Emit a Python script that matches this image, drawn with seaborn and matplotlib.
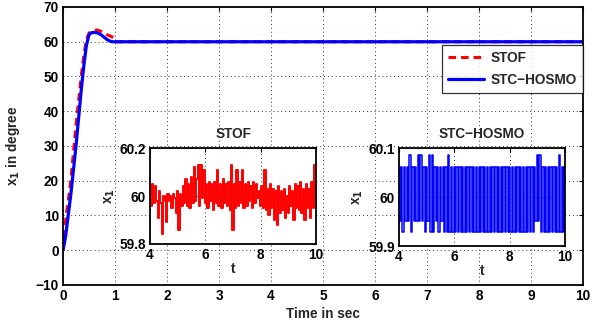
import numpy as np
import pandas as pd
import matplotlib
matplotlib.use("Agg")
import matplotlib.pyplot as plt
import seaborn as sns

# ---------------- data ----------------
main_t_stof = [0, 0.03, 0.06, 0.10, 0.15, 0.20, 0.25, 0.30, 0.35, 0.40, 0.45, 0.50,
               0.55, 0.60, 0.65, 0.70, 0.75, 0.80, 0.85, 0.90, 0.97, 1.02, 2, 4, 6, 8, 10]
main_stof = [0, 5, 10, 14, 20, 28, 36, 43, 50, 56, 60.5, 62.5,
             63.0, 63.3, 63.4, 63.2, 62.8, 62.4, 62.0, 61.7, 61.2, 60.0, 60, 60, 60, 60, 60]

main_t_hosmo = [0, 0.05, 0.10, 0.15, 0.20, 0.25, 0.30, 0.35, 0.40, 0.45, 0.50, 0.55,
                0.60, 0.65, 0.70, 0.75, 0.80, 0.85, 0.90, 0.95, 1.0, 2, 4, 6, 8, 10]
main_hosmo = [0, 4, 10, 16, 23, 30, 38, 46, 53, 59, 62, 62.6,
              62.7, 62.6, 62.3, 61.8, 61.2, 60.6, 60.2, 60.0, 60, 60, 60, 60, 60, 60]

inset_t = np.round(np.arange(4.0, 10.0001, 0.05), 2)

stof_zoom = [
    60.03, 59.96, 60.05, 59.97, 60.04,
    59.98, 59.91, 60.02, 59.97, 59.84,
    60.00, 59.98, 59.89, 60.01, 59.98,
    60.00, 59.95, 60.01, 59.99, 59.93,
    60.02, 59.86, 60.01, 59.96, 60.04,
    59.97, 60.07, 59.96, 60.05, 59.95,
    60.08, 59.97, 60.12, 59.98, 60.07,
    60.13, 59.96, 60.13, 59.99, 60.11,
    59.97, 60.05, 59.95, 60.06, 59.98,
    60.05, 59.94, 60.06, 59.97, 60.11,
    59.96, 60.05, 59.95, 60.07, 59.97,
    60.05, 59.96, 60.06, 59.94, 60.13,
    59.86, 60.05, 59.95, 60.11, 59.96,
    60.06, 59.97, 60.11, 59.95, 60.05,
    59.96, 60.06, 59.98, 60.04, 59.95,
    60.06, 59.97, 60.05, 59.99, 60.02,
    59.96, 60.04, 59.95, 60.11, 59.94,
    60.03, 59.92, 60.05, 59.95, 60.03,
    59.90, 60.02, 59.88, 60.04, 59.93,
    60.02, 59.94, 60.03, 59.91, 60.00,
    59.93, 60.04, 59.96, 60.02, 59.90,
    60.05, 59.95, 60.04, 59.94, 60.06,
    59.93, 60.03, 59.90, 60.05, 59.95,
    60.03, 59.91, 60.06, 59.95, 60.13,
    59.97,
]

hosmo_zoom = [
    60.062, 59.951, 60.062, 59.929, 60.062, 59.951, 60.062, 59.951, 60.085, 59.929,
    60.062, 59.951, 60.062, 59.951, 60.085, 59.951, 60.085, 59.951, 60.062, 59.929,
    60.062, 59.951, 60.085, 59.929, 60.085, 59.929, 60.062, 59.951, 60.062, 59.929,
    60.062, 59.951, 60.062, 59.929, 60.062, 59.929, 60.085, 59.929, 60.062, 59.929,
    60.062, 59.929, 60.062, 59.929, 60.062, 59.929, 60.062, 59.929, 60.062, 59.929,
    60.062, 59.929, 60.062, 59.929, 60.062, 59.929, 60.062, 59.929, 60.062, 59.929,
    60.062, 59.929, 60.062, 59.929, 60.062, 59.929, 60.062, 59.929, 60.062, 59.929,
    60.062, 59.929, 60.062, 59.929, 60.062, 59.929, 60.062, 59.929, 60.062, 59.929,
    60.062, 59.929, 60.062, 59.929, 60.062, 59.929, 60.062, 59.929, 60.062, 59.929,
    60.062, 59.929, 60.062, 59.929, 60.062, 59.929, 60.062, 59.929, 60.062, 59.951,
    60.085, 59.951, 60.085, 59.929, 60.062, 59.929, 60.062, 59.929, 60.062, 59.929,
    60.062, 59.929, 60.062, 59.929, 60.062, 59.929, 60.085, 59.929, 60.062, 59.929,
    60.062,
]

main_xticks = list(range(0, 11))
main_yticks = [-10, 0, 10, 20, 30, 40, 50, 60, 70]

# ---------------- style ----------------
sns.set_theme(style="white")
plt.rcParams["font.family"] = ["Liberation Sans", "DejaVu Sans"]
plt.rcParams["font.weight"] = "bold"
plt.rcParams["axes.labelweight"] = "bold"
plt.rcParams["mathtext.default"] = "bf"

FS = 9.8
grid_kw = dict(color="0.2", linestyle=(0, (1, 3)), linewidth=0.7)


def style_axes(ax):
    for s in ax.spines.values():
        s.set_color("black")
        s.set_linewidth(1.3)
        s.set_visible(True)
    ax.tick_params(direction="in", length=3, width=0.8, top=True, right=True,
                   labelsize=FS, colors="black", pad=3)
    for lab in ax.get_xticklabels() + ax.get_yticklabels():
        lab.set_fontweight("bold")
    ax.grid(True, **grid_kw)
    ax.set_facecolor("white")


fig = plt.figure(figsize=(6.0, 3.24), dpi=100)
ax = fig.add_axes([0.105, 0.1204, 0.8667, 0.858])

df_stof = pd.DataFrame({"t": main_t_stof, "x1": main_stof})
df_hosmo = pd.DataFrame({"t": main_t_hosmo, "x1": main_hosmo})

sns.lineplot(data=df_stof, x="t", y="x1", ax=ax, color=(1, 0, 0), linewidth=2.2,
             estimator=None, sort=False, dashes=False, linestyle=(0, (2.5, 1.6)), label="STOF")
sns.lineplot(data=df_hosmo, x="t", y="x1", ax=ax, color=(0, 0, 1), linewidth=2.3,
             estimator=None, sort=False, label="STC\u2212HOSMO")

ax.set_xlim(0, 10)
ax.set_ylim(-10, 70)
ax.set_xticks(main_xticks)
ax.set_yticks(main_yticks)
ax.set_xticklabels([str(v) for v in main_xticks])
ax.set_yticklabels([str(v).replace("-", "\u2212") for v in main_yticks])
style_axes(ax)
ax.set_xlabel("Time in sec", fontsize=FS, fontweight="bold", labelpad=3)
ax.set_ylabel("x$_1$ in degree", fontsize=FS, fontweight="bold", labelpad=10)

leg = ax.legend(loc="upper right", bbox_to_anchor=(1.0, 0.863), borderaxespad=0,
                frameon=True, fancybox=False, fontsize=FS, handlelength=2.6,
                borderpad=0.45, labelspacing=0.55, handletextpad=0.5)
leg.get_frame().set_edgecolor("black")
leg.get_frame().set_linewidth(0.9)
for txt in leg.get_texts():
    txt.set_fontweight("bold")

# ---------------- insets ----------------
ins1 = fig.add_axes([0.25, 0.247, 0.2767, 0.296])
df_i1 = pd.DataFrame({"t": inset_t, "x1": stof_zoom})
sns.lineplot(data=df_i1, x="t", y="x1", ax=ins1, color=(1, 0, 0), linewidth=1.4,
             estimator=None, sort=False, drawstyle="steps-mid")
ins1.set_xlim(4, 10)
ins1.set_ylim(59.8, 60.2)
ins1.set_xticks([4, 6, 8, 10])
ins1.set_yticks([59.8, 60.0, 60.2])
ins1.set_xticklabels(["4", "6", "8", "10"])
ins1.set_yticklabels(["59.8", "60", "60.2"])
style_axes(ins1)
ins1.set_title("STOF", fontsize=FS, fontweight="bold", pad=7)
ins1.set_xlabel("t", fontsize=FS, fontweight="bold", labelpad=0)
ins1.set_ylabel("x$_1$", fontsize=FS, fontweight="bold", labelpad=2)

ins2 = fig.add_axes([0.665, 0.2407, 0.2767, 0.3025])
df_i2 = pd.DataFrame({"t": inset_t, "x1": hosmo_zoom})
sns.lineplot(data=df_i2, x="t", y="x1", ax=ins2, color=(0, 0, 1), linewidth=1.1,
             estimator=None, sort=False, drawstyle="steps-mid")
ins2.set_xlim(4, 10)
ins2.set_ylim(59.9, 60.1)
ins2.set_xticks([4, 6, 8, 10])
ins2.set_yticks([59.9, 60.0, 60.1])
ins2.set_xticklabels(["4", "6", "8", "10"])
ins2.set_yticklabels(["59.9", "60", "60.1"])
style_axes(ins2)
ins2.set_title("STC\u2212HOSMO", fontsize=FS, fontweight="bold", pad=7)
ins2.set_xlabel("t", fontsize=FS, fontweight="bold", labelpad=0)
ins2.set_ylabel("x$_1$", fontsize=FS, fontweight="bold", labelpad=2)

fig.savefig("out.png", dpi=100, facecolor="white")
